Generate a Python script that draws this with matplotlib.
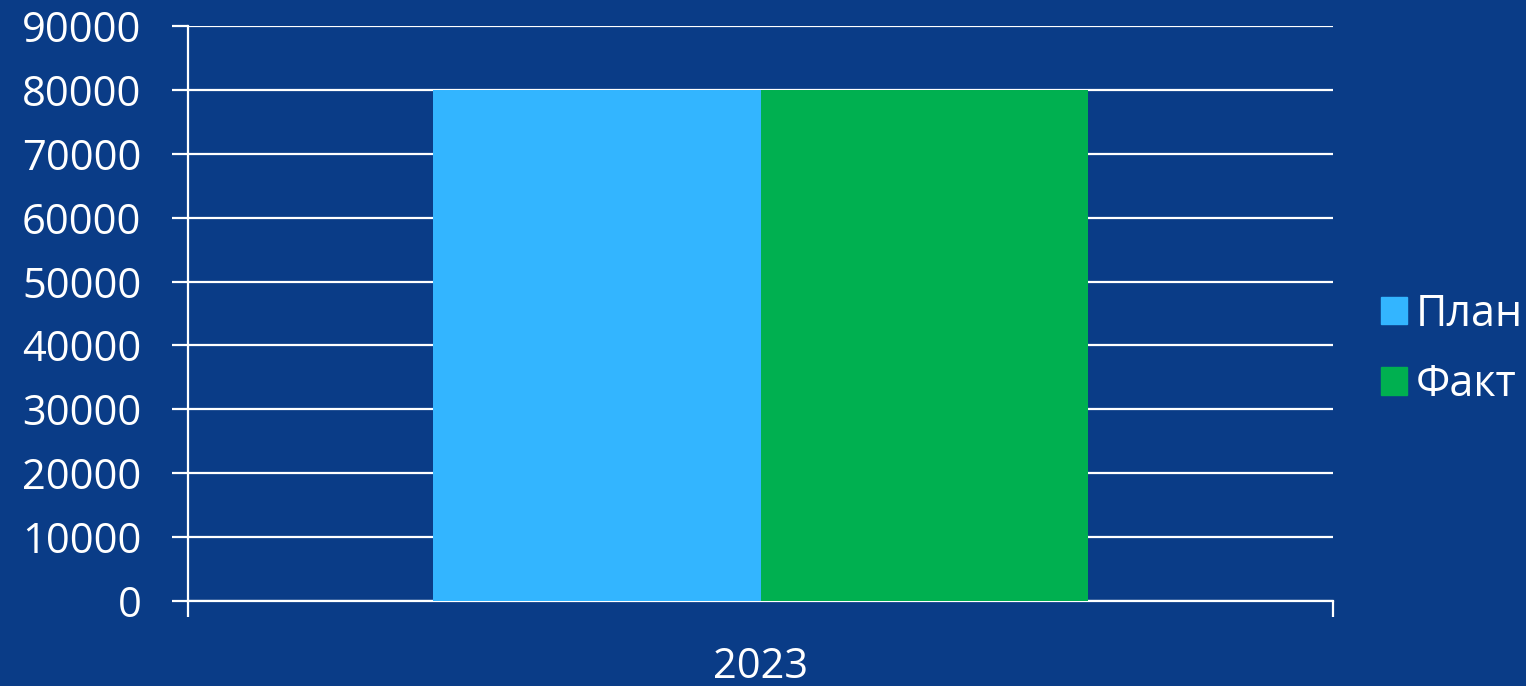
import numpy as np
import matplotlib.pyplot as plt
from matplotlib.patches import Patch

# data
years = ['2023']
plan = [80000]
fact = [80000]
series_names = ['План', 'Факт']

bg = '#0a3c87'
c_plan = '#33b5ff'
c_fact = '#00b050'

plt.rcParams['font.family'] = ['Open Sans', 'DejaVu Sans']

fig = plt.figure(figsize=(15.26, 6.86), dpi=100, facecolor=bg)
ax = fig.add_axes([188/1526, 85/686, 1145/1526, 575/686])
ax.set_facecolor(bg)

x = np.arange(len(years))
w = 0.2856
ax.bar(x - w/2, plan, width=w, color=c_plan, zorder=3)
ax.bar(x + w/2, fact, width=w, color=c_fact, zorder=3)

ax.set_xlim(-0.5, len(years) - 0.5)
ax.set_ylim(0, 90000)
ax.set_yticks(np.arange(0, 90001, 10000))
ax.grid(axis='y', color='white', linewidth=1.6, zorder=1)

for s in ['top', 'right']:
    ax.spines[s].set_visible(False)
ax.spines['left'].set_color('white')
ax.spines['left'].set_linewidth(1.6)
ax.spines['bottom'].set_color('white')
ax.spines['bottom'].set_linewidth(1.6)

ax.tick_params(axis='y', colors='white', labelsize=30, length=11.5, width=1.6, pad=22)
# category boundary ticks on the x axis
ax.set_xticks([-0.5, len(years) - 0.5])
ax.set_xticklabels([])
ax.tick_params(axis='x', colors='white', length=11.5, width=1.6)
for i, yr in enumerate(years):
    ax.text(i, -10300, yr, color='white', fontsize=30, ha='center', va='center')

handles = [Patch(color=c_plan, label=series_names[0]),
           Patch(color=c_fact, label=series_names[1])]
leg = fig.legend(handles=handles, loc='center left', bbox_to_anchor=(1381/1526, 0.49),
                 frameon=False, fontsize=31, handlelength=0.6, handleheight=0.6,
                 handletextpad=0.2, labelspacing=0.6, borderaxespad=0, borderpad=0)
for t in leg.get_texts():
    t.set_color('white')

fig.savefig('out.png', dpi=100, facecolor=bg)
